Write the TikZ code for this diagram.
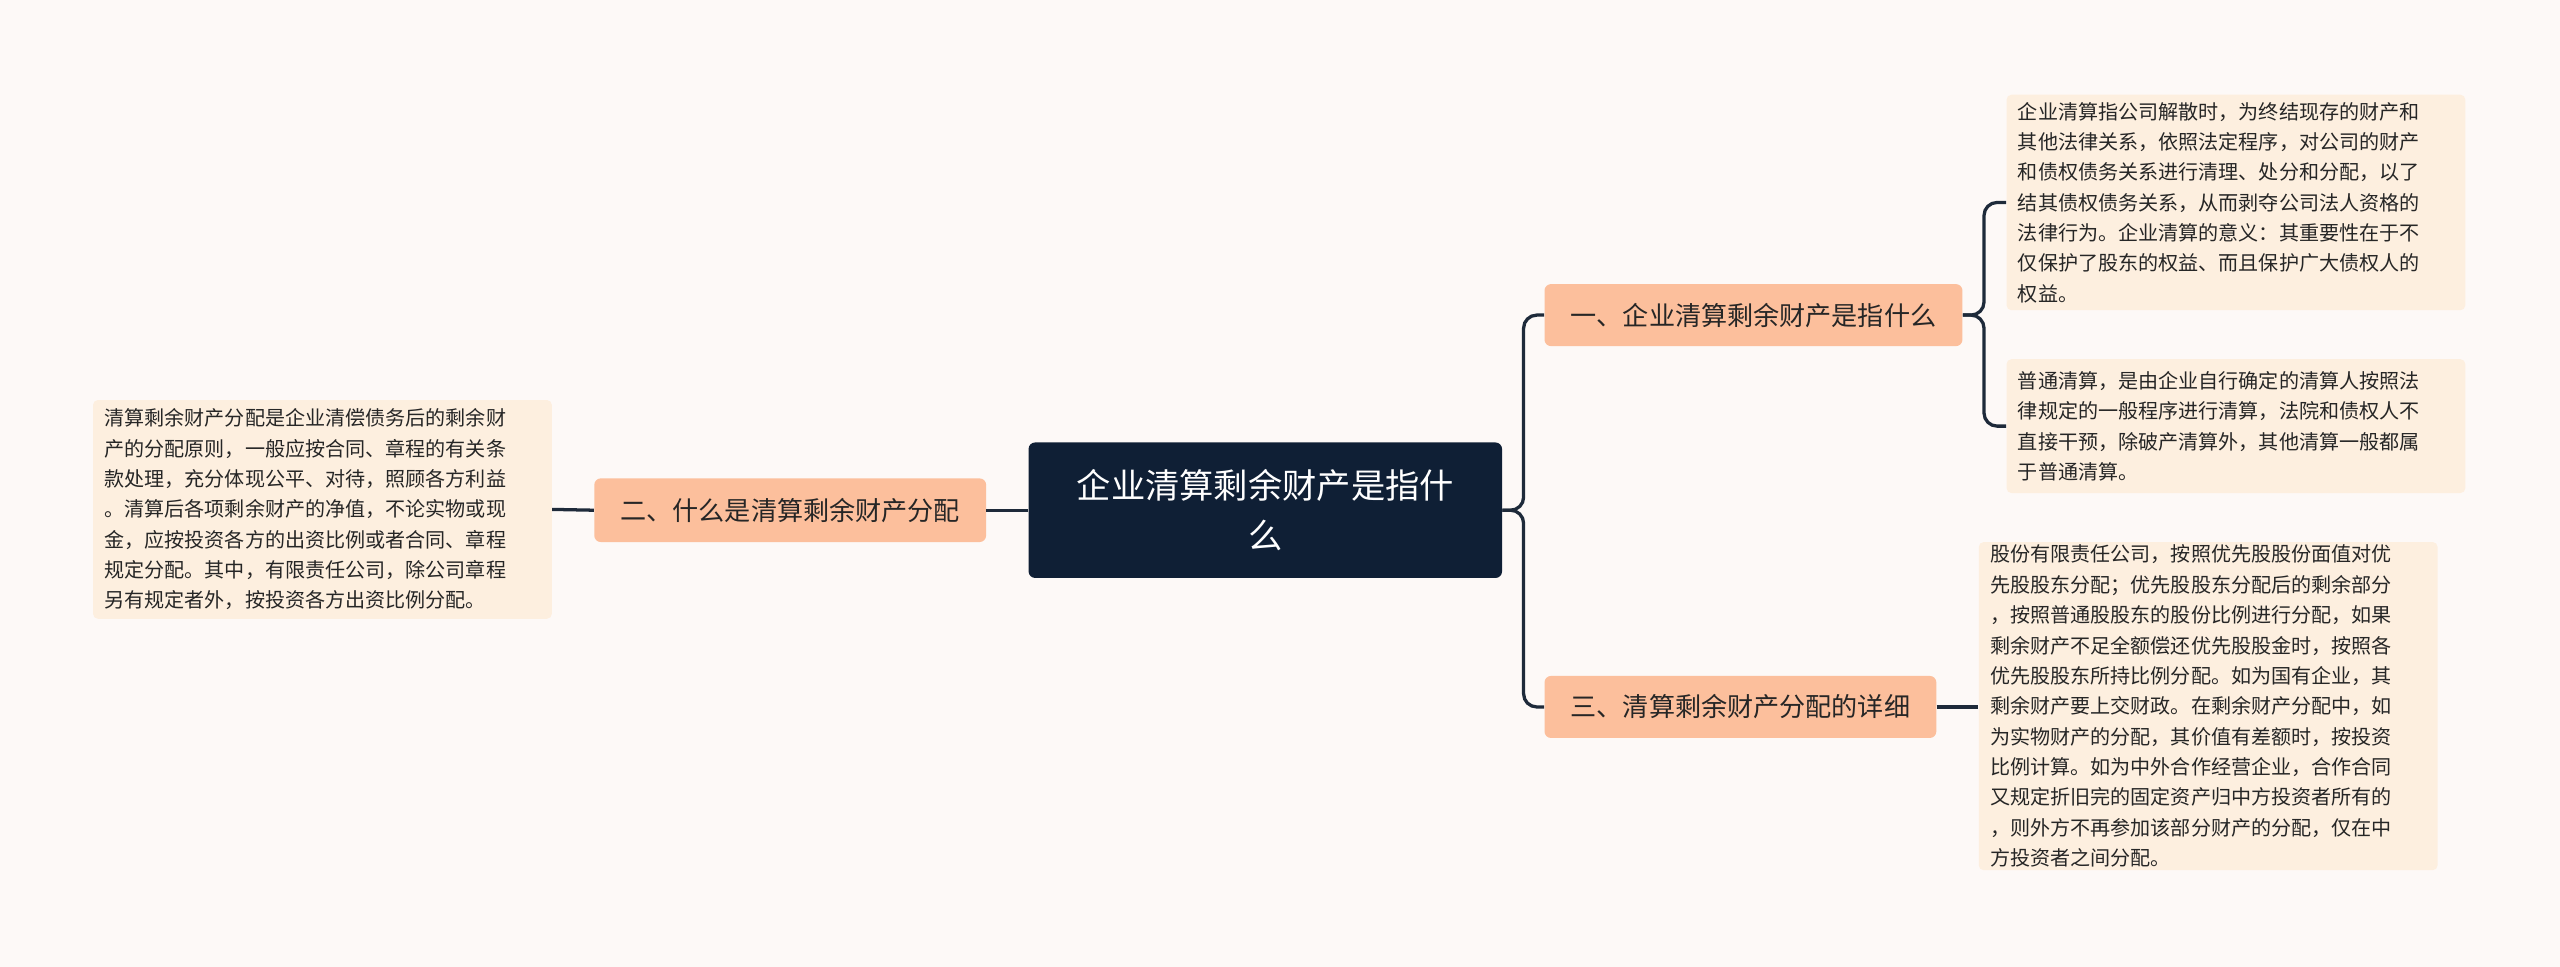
\documentclass[tikz,border=0pt]{standalone}
\usepackage{fontspec}
\setmainfont{Noto Sans CJK SC}
\begin{document}
\begin{tikzpicture}[x=1pt,y=-1pt,
 leaf/.style={fill=leafc,rounded corners=3pt,inner sep=0pt,align=left,font=\fontsize{12.3}{18.6}\selectfont,text=black!85},
 branch/.style={fill=brc,rounded corners=4pt,inner sep=0pt,font=\fontsize{16}{20}\selectfont,text=black!85},
 conn/.style={draw=linec,line width=2pt,rounded corners=8pt}]
\definecolor{bg}{HTML}{FDF9F7}
\definecolor{leafc}{HTML}{FDEFDF}
\definecolor{brc}{HTML}{FCBF9C}
\definecolor{linec}{HTML}{1E2A3A}
\definecolor{cen}{HTML}{0F1F35}
\fill[bg] (0,0) rectangle (1568,592);
\useasboundingbox (0,0) rectangle (1568,592);
\node[fill=cen,rounded corners=4pt,minimum width=290pt,minimum height=83pt,text width=270pt,align=center,text=white,font=\fontsize{21}{31}\selectfont] (c) at (775,312.5) {企业清算剩余财产是指什\\么};
\node[branch,minimum width=256pt,minimum height=38pt] (b1) at (1074,193) {一、企业清算剩余财产是指什么};
\node[branch,minimum width=240pt,minimum height=38pt] (b3) at (1066,433) {三、清算剩余财产分配的详细};
\node[branch,minimum width=240pt,minimum height=39pt] (b2) at (484,312.5) {二、什么是清算剩余财产分配};
\node[leaf,minimum width=281pt,minimum height=132pt,text width=267pt] (l1) at (1369.5,124) {企业清算指公司解散时，为终结现存的财产和\\其他法律关系，依照法定程序，对公司的财产\\和债权债务关系进行清理、处分和分配，以了\\结其债权债务关系，从而剥夺公司法人资格的\\法律行为。企业清算的意义：其重要性在于不\\仅保护了股东的权益、而且保护广大债权人的\\权益。};
\node[leaf,minimum width=281pt,minimum height=82pt,text width=267pt] (l2) at (1369.5,261) {普通清算，是由企业自行确定的清算人按照法\\律规定的一般程序进行清算，法院和债权人不\\直接干预，除破产清算外，其他清算一般都属\\于普通清算。};
\node[leaf,minimum width=281pt,minimum height=201pt,text width=267pt] (l3) at (1352.5,432.5) {股份有限责任公司，按照优先股股份面值对优\\先股股东分配；优先股股东分配后的剩余部分\\，按照普通股股东的股份比例进行分配，如果\\剩余财产不足全额偿还优先股股金时，按照各\\优先股股东所持比例分配。如为国有企业，其\\剩余财产要上交财政。在剩余财产分配中，如\\为实物财产的分配，其价值有差额时，按投资\\比例计算。如为中外合作经营企业，合作合同\\又规定折旧完的固定资产归中方投资者所有的\\，则外方不再参加该部分财产的分配，仅在中\\方投资者之间分配。};
\node[leaf,minimum width=281pt,minimum height=134pt,text width=267pt] (l4) at (197.5,312) {清算剩余财产分配是企业清偿债务后的剩余财\\产的分配原则，一般应按合同、章程的有关条\\款处理，充分体现公平、对待，照顾各方利益\\。清算后各项剩余财产的净值，不论实物或现\\金，应按投资各方的出资比例或者合同、章程\\规定分配。其中，有限责任公司，除公司章程\\另有规定者外，按投资各方出资比例分配。};
\draw[conn] (c.east) -- ++(13,0) |- (b1.west);
\draw[conn] (c.east) -- ++(13,0) |- (b3.west);
\draw[conn] (b1.east) -- ++(13,0) |- (l1.west);
\draw[conn] (b1.east) -- ++(13,0) |- (l2.west);
\draw[conn] (b3.east) -- (b3.east -| l3.west);
\draw[conn] (c.west) -- (b2.east);
\draw[conn] (b2.west) -- (l4.east);
\end{tikzpicture}
\end{document}
